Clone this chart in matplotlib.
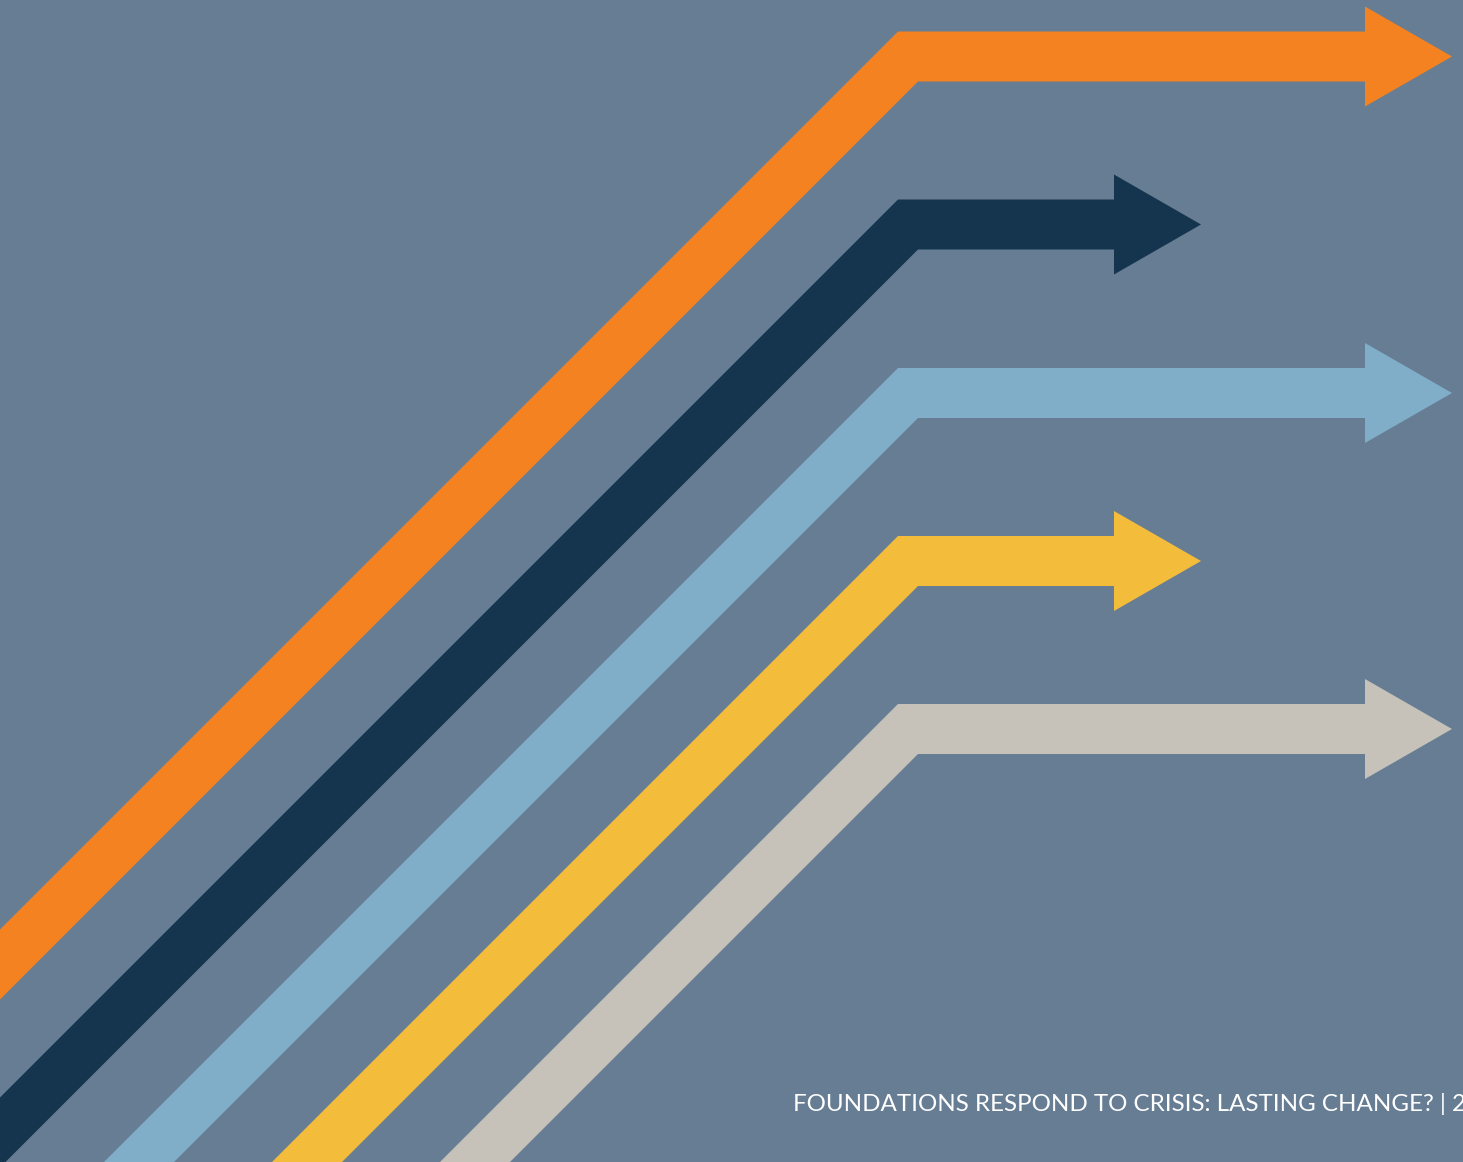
import matplotlib
matplotlib.use("Agg")
import matplotlib.pyplot as plt
from matplotlib.patches import Polygon

# Arrow data (pixel space of the 1463x1162 canvas)
arrow_names = ["orange", "navy", "lightblue", "yellow", "gray"]
arrow_center_y = [56.5, 224.5, 393, 561, 729]
arrow_tip_x = [1452, 1201, 1452, 1201, 1452]
arrow_colors = ["#F58220", "#15354E", "#80AEC8", "#F4BC3B", "#C6C2B9"]
footer_text = "FOUNDATIONS RESPOND TO CRISIS: LASTING CHANGE? | 2"

W, H = 1463, 1162
BG = "#667D94"

fig = plt.figure(figsize=(W / 100, H / 100), dpi=100, facecolor=BG)
ax = fig.add_axes([0, 0, 1, 1])
ax.set_xlim(0, W)
ax.set_ylim(H, 0)
ax.set_facecolor(BG)
ax.axis("off")

half = 25
corner_top = 898
corner_bot = 918
head_half = 50
head_len = 87
ext = 600

for c, tip, col in zip(arrow_center_y, arrow_tip_x, arrow_colors):
    shaft_end = tip - head_len
    pts = [
        (-ext, c - half + corner_top + ext),
        (corner_top, c - half),
        (shaft_end, c - half),
        (shaft_end, c - head_half),
        (tip, c),
        (shaft_end, c + head_half),
        (shaft_end, c + half),
        (corner_bot, c + half),
        (-ext, c + half + corner_bot + ext),
    ]
    ax.add_patch(Polygon(pts, closed=True, facecolor=col, edgecolor="none"))

ax.text(793, 1111, footer_text, color="white", fontsize=17.4, family="Lato",
        ha="left", va="baseline")

fig.savefig("out.png", dpi=100, facecolor=BG)
